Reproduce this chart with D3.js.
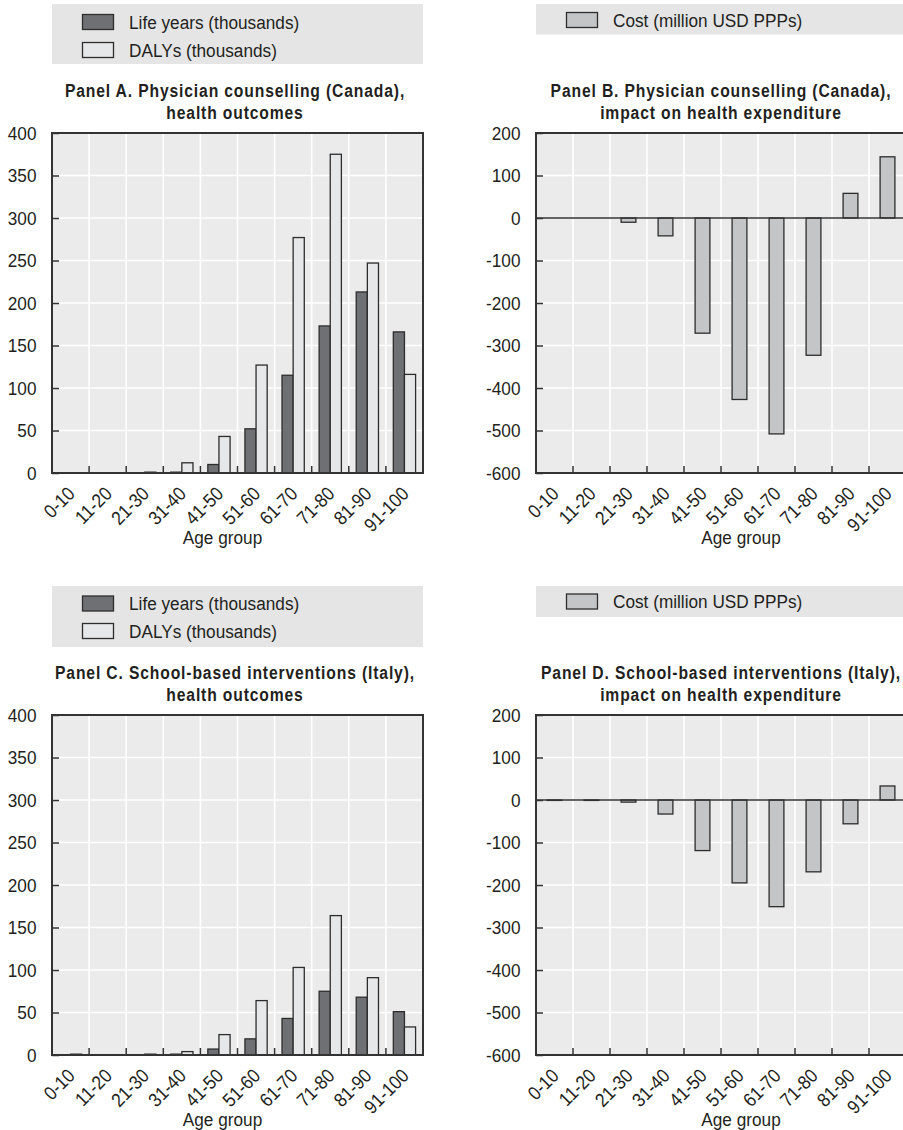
<!DOCTYPE html>
<html>
<head>
<meta charset="utf-8">
<script src="https://cdn.jsdelivr.net/npm/d3@7"></script>
<style>
  html, body { margin: 0; padding: 0; background: #ffffff; }
  svg { display: block; overflow: hidden; }
  text { font-family: "Liberation Sans", Arial, Helvetica, sans-serif; fill: #231f20; }
</style>
</head>
<body>
<div id="chart"></div>
<script>
// Age groups shared by every panel
const ageGroups = ["0-10", "11-20", "21-30", "31-40", "41-50", "51-60", "61-70", "71-80", "81-90", "91-100"];

// Physician counselling (Canada)
const lifeYearsCanada = [0, 0, 0, 1, 10, 52, 115, 173, 213, 166];
const dalysCanada     = [0, 0, 1, 12, 43, 127, 277, 375, 247, 116];
const costCanada      = [0, 0, -10, -42, -271, -427, -508, -323, 58, 144];

// School-based interventions (Italy)
const lifeYearsItaly = [0, 0, 0, 1, 7, 19, 43, 75, 68, 51];
const dalysItaly     = [1, 0, 1, 4, 24, 64, 103, 164, 91, 33];
const costItaly      = [-1, -1, -5, -33, -119, -195, -251, -169, -56, 33];

// Axis ticks
const outcomeTicks = [0, 50, 100, 150, 200, 250, 300, 350, 400];
const costTicks = [-600, -500, -400, -300, -200, -100, 0, 100, 200];

// Series labels
const outcomeSeriesNames = ["Life years (thousands)", "DALYs (thousands)"];
const costSeriesNames = ["Cost (million USD PPPs)"];

const W = 903, H = 1130;
const COL = {
  dark: "#6f7073",
  light: "#e6e7e8",
  cost: "#c4c5c7",
  stroke: "#2d2d2d",
  plotBg: "#ebebeb",
  legendBg: "#e5e5e6",
  frame: "#333333",
  grid: "#ffffff"
};
const SX = 0.93;        // horizontal squeeze for the condensed lettering
const SY = 1.04;        // slight vertical stretch of the same lettering
const FS = 18.5;        // body font size
const TITLE_FS = 18;    // panel title font size

const panels = [
  {
    title: ["Panel A. Physician counselling (Canada),", "health outcomes"],
    left: 52, top: 133, width: 371, height: 340, titleX: 235, axisTitleX: 222.5,
    domain: [0, 400], ticks: outcomeTicks,
    series: [
      { name: outcomeSeriesNames[0], values: lifeYearsCanada, fill: COL.dark },
      { name: outcomeSeriesNames[1], values: dalysCanada, fill: COL.light }
    ],
    span: [0.2, 0.8],
    legend: { left: 52, top: 4, width: 371, height: 60, rows: [18, 46] }
  },
  {
    title: ["Panel B. Physician counselling (Canada),", "impact on health expenditure"],
    left: 536, top: 133, width: 370, height: 340, titleX: 721, axisTitleX: 741,
    domain: [-600, 200], ticks: costTicks,
    series: [{ name: costSeriesNames[0], values: costCanada, fill: COL.cost }],
    span: [0.3, 0.7], zeroLine: true,
    legend: { left: 536, top: 4, width: 367, height: 30.5, rows: [16] }
  },
  {
    title: ["Panel C. School-based interventions (Italy),", "health outcomes"],
    left: 52, top: 715, width: 371, height: 340, titleX: 235, axisTitleX: 222.5,
    domain: [0, 400], ticks: outcomeTicks,
    series: [
      { name: outcomeSeriesNames[0], values: lifeYearsItaly, fill: COL.dark },
      { name: outcomeSeriesNames[1], values: dalysItaly, fill: COL.light }
    ],
    span: [0.2, 0.8],
    legend: { left: 52, top: 586, width: 371, height: 61, rows: [17.5, 45] }
  },
  {
    title: ["Panel D. School-based interventions (Italy),", "impact on health expenditure"],
    left: 536, top: 715, width: 370, height: 340, titleX: 721, axisTitleX: 741,
    domain: [-600, 200], ticks: costTicks,
    series: [{ name: costSeriesNames[0], values: costItaly, fill: COL.cost }],
    span: [0.3, 0.7], zeroLine: true,
    legend: { left: 536, top: 586, width: 367, height: 31, rows: [15.5] }
  }
];

const svg = d3.select("#chart").append("svg")
  .attr("width", W).attr("height", H)
  .attr("viewBox", `0 0 ${W} ${H}`);

// Text drawn with a slight horizontal squeeze so it reads as condensed type
function label(g, x, y, str, opt = {}) {
  const rot = opt.rotate ? ` rotate(${opt.rotate})` : "";
  return g.append("text")
    .attr("transform", `translate(${x},${y})${rot} scale(${opt.sx || SX},${opt.sy || SY})`)
    .attr("text-anchor", opt.anchor || "start")
    .attr("dominant-baseline", opt.baseline || "alphabetic")
    .style("font-size", (opt.size || FS) + "px")
    .style("font-weight", opt.weight || "normal")
    .style("letter-spacing", opt.spacing ? opt.spacing + "px" : null)
    .text(str);
}

panels.forEach(p => {
  const g = svg.append("g");

  // Legend
  const lg = g.append("g");
  lg.append("rect")
    .attr("x", p.legend.left).attr("y", p.legend.top)
    .attr("width", p.legend.width).attr("height", p.legend.height)
    .attr("fill", COL.legendBg);
  p.series.forEach((s, i) => {
    const cy = p.legend.top + p.legend.rows[i];
    lg.append("rect")
      .attr("x", p.legend.left + 30.5).attr("y", cy - 7.5)
      .attr("width", 31).attr("height", 15)
      .attr("fill", s.fill).attr("stroke", COL.stroke).attr("stroke-width", 1.3);
    label(lg, p.legend.left + 77, cy + 6.8, s.name);
  });

  // Title
  const ty = p.top - 36;
  const titleOpt = { anchor: "middle", weight: "bold", size: TITLE_FS, sx: 0.87, sy: 1.06, spacing: 1 };
  label(g, p.titleX, ty, p.title[0], titleOpt);
  label(g, p.titleX, ty + 22, p.title[1], titleOpt);

  // Scales
  const x = d3.scaleBand().domain(ageGroups).range([p.left, p.left + p.width]).padding(0);
  const bw = x.bandwidth();
  const xs = d3.scaleBand().domain(d3.range(p.series.length))
    .range([bw * p.span[0], bw * p.span[1]]).padding(0);
  const y = d3.scaleLinear().domain(p.domain).range([p.top + p.height, p.top]);
  const bottom = p.top + p.height;

  // Plot background and grid
  g.append("rect")
    .attr("x", p.left).attr("y", p.top).attr("width", p.width).attr("height", p.height)
    .attr("fill", COL.plotBg);

  g.append("g").selectAll("line.h")
    .data(p.ticks.slice(1, -1)).join("line")
    .attr("x1", p.left).attr("x2", p.left + p.width)
    .attr("y1", d => y(d)).attr("y2", d => y(d))
    .attr("stroke", COL.grid).attr("stroke-width", 1.6);

  g.append("g").selectAll("line.v")
    .data(ageGroups.slice(1)).join("line")
    .attr("x1", d => x(d)).attr("x2", d => x(d))
    .attr("y1", p.top).attr("y2", bottom)
    .attr("stroke", COL.grid).attr("stroke-width", 1.6);

  // Bars
  p.series.forEach((s, si) => {
    g.append("g").selectAll("rect")
      .data(ageGroups.map((a, i) => ({ a, v: s.values[i] })).filter(d => d.v !== 0))
      .join("rect")
      .attr("x", d => x(d.a) + xs(si))
      .attr("width", xs.bandwidth())
      .attr("y", d => y(Math.max(0, d.v)))
      .attr("height", d => Math.abs(y(d.v) - y(0)))
      .attr("fill", s.fill)
      .attr("stroke", COL.stroke)
      .attr("stroke-width", 1.3);
  });

  if (p.zeroLine) {
    g.append("line")
      .attr("x1", p.left).attr("x2", p.left + p.width)
      .attr("y1", y(0)).attr("y2", y(0))
      .attr("stroke", COL.frame).attr("stroke-width", 1.6);
  }

  // Frame
  g.append("rect")
    .attr("x", p.left).attr("y", p.top).attr("width", p.width).attr("height", p.height)
    .attr("fill", "none").attr("stroke", COL.frame).attr("stroke-width", 2);

  // Y axis: inward ticks and labels
  const yAxis = d3.axisRight(y).tickValues(p.ticks).tickSize(7).tickFormat(d3.format("d"));
  const ya = g.append("g").attr("transform", `translate(${p.left},0)`).call(yAxis);
  ya.select(".domain").remove();
  ya.selectAll(".tick line").attr("stroke", COL.frame).attr("stroke-width", 1.5);
  ya.selectAll(".tick text").remove();
  p.ticks.forEach(t => {
    label(g, p.left - 15.5, y(t), String(t), { anchor: "end", baseline: "central" });
  });

  // X axis: inward ticks at band boundaries, rotated labels
  const xa = g.append("g");
  xa.selectAll("line")
    .data(ageGroups.slice(1)).join("line")
    .attr("x1", d => x(d)).attr("x2", d => x(d))
    .attr("y1", bottom).attr("y2", bottom - 7)
    .attr("stroke", COL.frame).attr("stroke-width", 1.5);
  ageGroups.forEach(a => {
    label(g, x(a) + bw / 2 + 5.5, bottom + 22, a, { anchor: "end", rotate: -45 });
  });

  label(g, p.axisTitleX, bottom + 71, "Age group", { anchor: "middle" });
});
</script>
</body>
</html>
